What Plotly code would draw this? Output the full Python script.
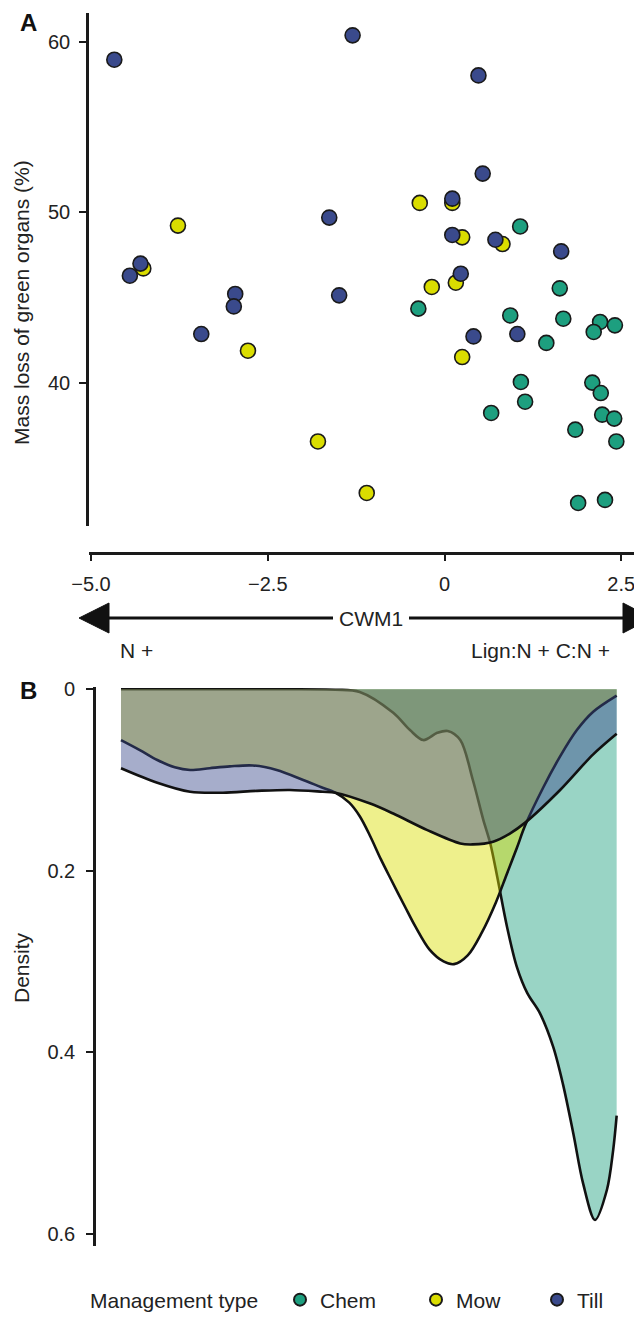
import plotly.graph_objects as go

W, H = 642, 1320
OFF = 8  # page body margin of the browser: shift everything so screen pixels match

# ---------------- data: panel A (scatter) ----------------
chem_x = [-0.37, 1.07, 1.63, 0.93, 1.68, 2.20, 2.11, 2.41, 1.44, 1.08,
          1.14, 0.66, 2.09, 2.21, 2.23, 2.40, 1.85, 2.43, 1.89, 2.27]
chem_y = [44.36, 49.18, 45.55, 43.96, 43.77, 43.58, 42.99, 43.38, 42.35, 40.06,
          38.90, 38.24, 40.02, 39.41, 38.14, 37.91, 37.26, 36.57, 32.96, 33.14]

mow_x = [-3.77, -4.26, -2.78, -1.79, -1.10, -0.35, 0.11, 0.25, 0.82, 0.16, -0.18, 0.25]
mow_y = [49.23, 46.72, 41.89, 36.57, 33.55, 50.56, 50.56, 48.54, 48.15, 45.88, 45.63, 41.52]

till_x = [-4.67, -1.30, 0.48, 0.54, -1.63, 0.11, 0.11, 0.72, 1.65, 0.23,
          -4.45, -4.30, -2.96, -2.98, -1.49, -3.44, 0.41, 1.03]
till_y = [58.96, 60.39, 58.04, 52.28, 49.70, 50.81, 48.68, 48.40, 47.72, 46.41,
          46.29, 47.00, 45.22, 44.49, 45.14, 42.87, 42.73, 42.87]

# ---------------- data: panel B (density curves) ----------------
chem_dx = [-4.67, -2.50, -1.60, -1.25, -0.77, -0.53, -0.34, -0.14, 0.01, 0.19, 0.37,
           0.52, 0.62, 0.72, 0.86, 1.00, 1.15, 1.33, 1.52, 1.66, 1.81, 1.95, 2.12,
           2.29, 2.38, 2.43]
chem_d = [0.0, 0.0, 0.0005, 0.003, 0.026, 0.045, 0.056, 0.048, 0.046, 0.056, 0.100,
          0.144, 0.170, 0.207, 0.262, 0.306, 0.335, 0.357, 0.394, 0.435, 0.490, 0.545, 0.585,
          0.552, 0.508, 0.470]

mow_dx = [-4.67, -4.40, -4.15, -3.90, -3.68, -3.40, -3.11, -2.78, -2.44, -2.06, -1.80,
          -1.60, -1.40, -1.25, -1.10, -0.95, -0.80, -0.60, -0.45, -0.25, -0.05, 0.10,
          0.30, 0.50, 0.70, 0.85, 1.00, 1.12, 1.38, 1.62, 1.86, 2.09, 2.43]
mow_d = [0.056, 0.067, 0.078, 0.086, 0.089, 0.087, 0.085, 0.084, 0.089, 0.100, 0.108,
         0.114, 0.125, 0.140, 0.162, 0.187, 0.210, 0.240, 0.262, 0.287, 0.300, 0.303,
         0.293, 0.268, 0.235, 0.205, 0.175, 0.150, 0.108, 0.074, 0.045, 0.025, 0.007]

till_dx = [-4.67, -4.15, -3.68, -3.21, -2.72, -2.25, -1.78, -1.60, -1.10, -0.77, -0.29,
           0.19, 0.37, 0.66, 0.90, 1.12, 1.62, 2.09, 2.43]
till_d = [0.087, 0.103, 0.113, 0.114, 0.112, 0.111, 0.113, 0.114, 0.126, 0.137, 0.155,
          0.170, 0.171, 0.168, 0.159, 0.147, 0.111, 0.072, 0.049]

groups = ["Chem", "Mow", "Till"]
x_ticks = [-5.0, -2.5, 0, 2.5]
x_ticktext = ["\u22125.0", "\u22122.5", "0", "2.5"]
yA_ticks = [40, 50, 60]
yB_ticks = [0, 0.2, 0.4, 0.6]
yB_ticktext = ["0", "0.2", "0.4", "0.6"]

# ---------------- styles ----------------
colors = {"Chem": "#1d9f7f", "Mow": "#dadd00", "Till": "#3a4a8c"}
fills = {"Chem": "rgba(29,159,127,0.45)", "Mow": "rgba(218,221,0,0.45)",
         "Till": "rgba(58,74,140,0.45)"}
legend_ids = {"Chem": "legend", "Mow": "legend2", "Till": "legend3"}
legend_sym_px = {"Chem": 300, "Mow": 436, "Till": 557}
FONT = "Liberation Sans, Arial, Helvetica, sans-serif"
AX = "#1a1a1a"
TXT = "#222222"


def pxx(x):
    return (x - OFF) / W


def pyy(y):
    return 1 - (y - OFF) / H


scatter_data = {"Chem": (chem_x, chem_y), "Mow": (mow_x, mow_y), "Till": (till_x, till_y)}
dens_data = {"Chem": (chem_dx, chem_d), "Mow": (mow_dx, mow_d), "Till": (till_dx, till_d)}

fig = go.Figure()

for g in groups:
    xs, ys = scatter_data[g]
    fig.add_trace(go.Scatter(
        x=xs, y=ys, mode="markers", name=g, xaxis="x", yaxis="y",
        marker=dict(size=15, color=colors[g], line=dict(color="#1a1a1a", width=1.6)),
        showlegend=True, legend=legend_ids[g],
    ))

for g in groups:
    xs, ds = dens_data[g]
    fig.add_trace(go.Scatter(
        x=xs, y=ds, mode="lines", xaxis="x2", yaxis="y2",
        line=dict(color="#111111", width=2.6, shape="spline", smoothing=0.9),
        fill="tozeroy", fillcolor=fills[g], showlegend=False, hoverinfo="skip",
    ))

xr = [-5.028, 2.793]

legend_common = dict(
    orientation="h", xanchor="left", yanchor="middle", y=pyy(1300),
    font=dict(size=21, color=TXT), bgcolor="rgba(0,0,0,0)", itemsizing="constant",
    borderwidth=0,
)

fig.update_layout(
    width=W, height=H,
    margin=dict(l=0, r=0, t=0, b=0, autoexpand=False),
    paper_bgcolor="white", plot_bgcolor="white",
    font=dict(family=FONT, size=20, color=TXT),
    xaxis=dict(
        domain=[pxx(89), pxx(642)], range=xr, anchor="free", position=pyy(553),
        showgrid=False, zeroline=False, showline=True, linecolor=AX, linewidth=2.6,
        ticks="outside", ticklen=6, tickwidth=2.4, tickcolor=AX,
        tickvals=x_ticks, ticktext=x_ticktext, tickfont=dict(size=20, color=TXT),
        ticklabelstandoff=6,
    ),
    yaxis=dict(
        domain=[pyy(526), pyy(13)], range=[31.61, 61.70], anchor="x",
        showgrid=False, zeroline=False, showline=True, linecolor=AX, linewidth=2.6,
        ticks="outside", ticklen=7, tickwidth=2.4, tickcolor=AX,
        tickvals=yA_ticks, tickfont=dict(size=20, color=TXT),
        ticklabelstandoff=5,
    ),
    xaxis2=dict(
        domain=[pxx(96), pxx(642)], range=xr, anchor="y2", visible=False,
        showgrid=False, zeroline=False,
    ),
    yaxis2=dict(
        domain=[pyy(1246), pyy(687)], range=[0.6137, -0.0025], anchor="x2",
        showgrid=False, zeroline=False, showline=True, linecolor=AX, linewidth=2.6,
        ticks="outside", ticklen=7, tickwidth=2.4, tickcolor=AX,
        tickvals=yB_ticks, ticktext=yB_ticktext, tickfont=dict(size=20, color=TXT),
        ticklabelstandoff=7,
    ),
    legend=dict(x=pxx(legend_sym_px["Chem"] - 20), **legend_common),
    legend2=dict(x=pxx(legend_sym_px["Mow"] - 20), **legend_common),
    legend3=dict(x=pxx(legend_sym_px["Till"] - 20), **legend_common),
)

# axis titles, panel labels, legend title
annots = [
    dict(text="Mass loss of green organs (%)", x=pxx(21), y=pyy(303), textangle=-90,
         font=dict(size=21)),
    dict(text="Density", x=pxx(21), y=pyy(968), textangle=-90, font=dict(size=21)),
    dict(text="<b>A</b>", x=pxx(28), y=pyy(22), font=dict(size=24, color="#111")),
    dict(text="<b>B</b>", x=pxx(28), y=pyy(690), font=dict(size=24, color="#111")),
    dict(text="CWM1", x=pxx(371), y=pyy(618), font=dict(size=21)),
    dict(text="N +", x=pxx(136), y=pyy(650), font=dict(size=21)),
    dict(text="Lign:N + C:N +", x=pxx(540), y=pyy(650), font=dict(size=21)),
]
for a in annots:
    a.update(xref="paper", yref="paper", showarrow=False, xanchor="center", yanchor="middle")
    fig.add_annotation(**a)
fig.add_annotation(text="Management type", x=pxx(88), y=pyy(1300), xref="paper", yref="paper",
                   showarrow=False, xanchor="left", yanchor="middle", font=dict(size=21))

# CWM1 double arrow
ay = pyy(618)
fig.add_shape(type="line", xref="paper", yref="paper", x0=pxx(105), x1=pxx(333), y0=ay, y1=ay,
              line=dict(color="#111", width=3))
fig.add_shape(type="line", xref="paper", yref="paper", x0=pxx(409), x1=pxx(626), y0=ay, y1=ay,
              line=dict(color="#111", width=3))
fig.add_shape(type="path", xref="paper", yref="paper",
              path=f"M {pxx(79)},{ay} L {pxx(109)},{pyy(603)} L {pxx(109)},{pyy(633)} Z",
              fillcolor="#111", line=dict(color="#111", width=1))
fig.add_shape(type="path", xref="paper", yref="paper",
              path=f"M {pxx(652)},{ay} L {pxx(623)},{pyy(603)} L {pxx(623)},{pyy(633)} Z",
              fillcolor="#111", line=dict(color="#111", width=1))

fig.write_html("out.html")
